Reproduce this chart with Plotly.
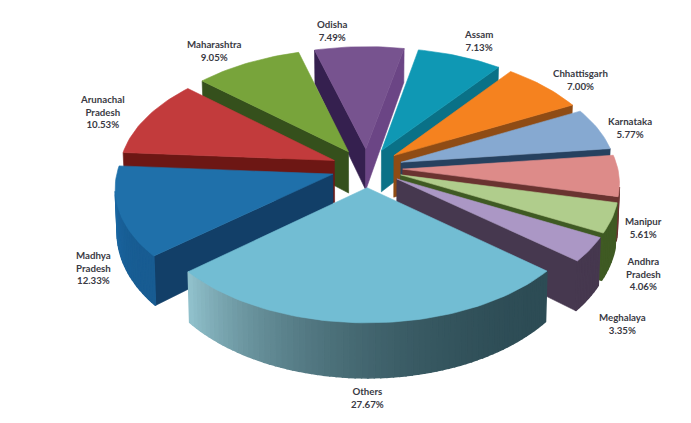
import math
import plotly.graph_objects as go

# ---------- data ----------
names = ["Others", "Madhya<br>Pradesh", "Arunachal<br>Pradesh", "Maharashtra", "Odisha", "Assam",
         "Chhattisgarh", "Karnataka", "Manipur", "Andhra<br>Pradesh", "Meghalaya"]
shares = [27.67, 12.33, 10.53, 9.05, 7.49, 7.13, 7.00, 5.77, 5.61, 4.06, 3.35]

# ---------- style ----------
top_colors = ["#72bdd3", "#1f70aa", "#c23b3c", "#78a43b", "#77538f", "#0f98b4",
              "#f5821f", "#86a9d1", "#dd8b89", "#b0cd8c", "#ab97c5"]
rim_from = ["#93c4cf", "#1b72b3", "#6d1714", "#35501c", "#6b4585", "#0a7187",
            "#8f4c15", "#26415f", "#6a3330", "#3f5a23", "#46384f"]
rim_to = ["#2d4c55", "#185c92", "#6d1714", "#35501c", "#6b4585", "#0a7187",
          "#8f4c15", "#26415f", "#6a3330", "#3f5a23", "#46384f"]
wall_start = ["#2d4c55", "#123f68", "#6d1714", "#35501c", "#35204f", "#0b7a92",
              "#8f4c15", "#26415f", "#6a3330", "#3f5a23", "#46384f"]
wall_end = ["#2d4c55", "#0f4069", "#6d1714", "#35501c", "#6b4585", "#0a7187",
            "#8f4c15", "#26415f", "#6a3330", "#3f5a23", "#46384f"]
label_xy = [(367, 397), (93, 267), (102, 111), (214, 50), (332, 30), (478, 40),
            (580, 79), (630, 127), (643, 227), (643, 273), (622, 323)]

FIRST_ANGLE = 130.0
EXPLODE = 0.166
CX, CY = 367.0, 168.0
RX, RY = 215.0, 116.7
PERSP = 0.104
DEPTH = 42.5
PAGE_MARGIN = 8  # the page body keeps this margin at the top and left


def project(u, v, bottom=False):
    s = 1.0 / (1.0 - PERSP * v)
    x = RX * u * s
    y = RY * v * s
    if bottom:
        x *= 0.992
        y += DEPTH * s * s
    return CX + x, CY + y


def hex2rgb(c):
    return [int(c[i:i + 2], 16) for i in (1, 3, 5)]


def mix(a, b, t):
    ca, cb = hex2rgb(a), hex2rgb(b)
    return "rgb(%d,%d,%d)" % tuple(round(p + (q - p) * t) for p, q in zip(ca, cb))


def area(pts):
    return sum(pts[i][0] * pts[(i + 1) % len(pts)][1] - pts[(i + 1) % len(pts)][0] * pts[i][1]
               for i in range(len(pts)))


fig = go.Figure()


def poly(pts, color, lw=0.6):
    xs = [p[0] for p in pts] + [pts[0][0]]
    ys = [p[1] for p in pts] + [pts[0][1]]
    fig.add_trace(go.Scatter(x=xs, y=ys, mode="lines", fill="toself", fillcolor=color,
                             line=dict(color=color, width=lw), hoverinfo="skip", showlegend=False))


total = sum(shares)
slices = []
a = FIRST_ANGLE
for i, val in enumerate(shares):
    b = a + 360.0 * val / total
    mid = math.radians((a + b) / 2)
    slices.append((i, a, b, EXPLODE * math.sin(mid), -EXPLODE * math.cos(mid)))
    a = b
slices.sort(key=lambda r: r[4])

for i, a, b, au, av in slices:
    n = max(8, int((b - a) / 1.5))
    rim = []
    for k in range(n + 1):
        th = math.radians(a + (b - a) * k / n)
        rim.append((au + math.sin(th), av - math.cos(th)))
    top = [project(u, v) for u, v in rim]
    bot = [project(u, v, True) for u, v in rim]
    apex_t, apex_b = project(au, av), project(au, av, True)

    # outward faces in outline order; a negative screen area means the face looks at the viewer
    face = [apex_t, top[0], bot[0], apex_b]
    if area(face) < 0:
        poly(face, wall_start[i])
    face = [top[-1], apex_t, apex_b, bot[-1]]
    if area(face) < 0:
        poly(face, wall_end[i])
    for k in range(n):
        face = [top[k], top[k + 1], bot[k + 1], bot[k]]
        if area(face) < 0:
            poly(face, mix(rim_to[i], rim_from[i], (k / n) ** 2.2), lw=1.5)
    poly([apex_t] + top, top_colors[i])

for name, val, (lx, ly) in zip(names, shares, label_xy):
    fig.add_annotation(x=lx, y=ly, text=f"<b>{name}<br>{val:.2f}%</b>", showarrow=False,
                       align="center", font=dict(family="Lato", size=9.7, color="#3a3a44"))

fig.update_layout(
    width=691 - PAGE_MARGIN, height=423 - PAGE_MARGIN, margin=dict(l=0, r=0, t=0, b=0),
    paper_bgcolor="white", plot_bgcolor="white", showlegend=False,
    xaxis=dict(range=[PAGE_MARGIN, 691], visible=False, fixedrange=True),
    yaxis=dict(range=[423, PAGE_MARGIN], visible=False, fixedrange=True),
)
fig.write_html("out.html", config=dict(displayModeBar=False))
